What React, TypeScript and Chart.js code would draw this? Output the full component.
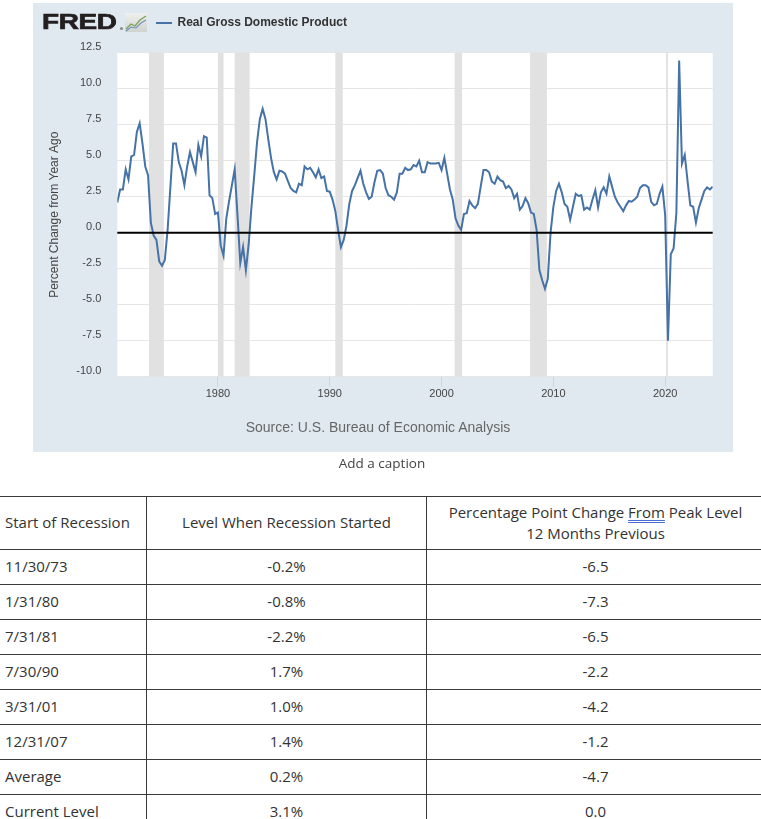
import { useEffect, useRef } from 'react';
import { Chart, registerables } from 'chart.js';

Chart.register(...registerables);

// Real GDP, percent change from year ago, quarterly, starting 1971 Q1
const START_YEAR = 1971;
const gdpYoY = [
  2.1, 3.0, 3.0, 4.4, // 1971
  3.7, 5.3, 5.4, 7.0, // 1972
  7.6, 6.2, 4.6, 4.0, // 1973
  0.7, -0.2, -0.5, -2.0, // 1974
  -2.3, -1.9, 0.2, 3.2, // 1975
  6.2, 6.2, 4.9, 4.3, // 1976
  3.3, 4.6, 5.6, 4.9, // 1977
  4.2, 6.1, 5.3, 6.7, // 1978
  6.6, 2.6, 2.4, 1.3, // 1979
  1.4, -0.9, -1.6, 1.0, // 1980
  2.2, 3.3, 4.4, 1.2, // 1981
  -2.1, -1.0, -2.6, -0.8, // 1982
  1.8, 4.0, 6.3, 7.9, // 1983
  8.6, 7.9, 6.5, 5.2, // 1984
  4.2, 3.7, 4.3, 4.25, // 1985
  4.1, 3.6, 3.1, 2.9, // 1986
  2.8, 3.4, 3.3, 4.6, // 1987
  4.4, 4.5, 4.2, 3.85, // 1988
  4.4, 3.8, 3.9, 2.9, // 1989
  2.85, 2.3, 1.5, 0.2, // 1990
  -1.0, -0.5, 0.5, 2.0, // 1991
  2.9, 3.3, 3.8, 4.3, // 1992
  3.4, 2.8, 2.35, 2.5, // 1993
  3.5, 4.3, 4.35, 4.1, // 1994
  3.1, 2.6, 2.5, 2.3, // 1995
  2.8, 4.1, 4.1, 4.5, // 1996
  4.35, 4.4, 4.7, 4.6, // 1997
  5.0, 4.2, 4.2, 4.9, // 1998
  4.8, 4.8, 4.8, 4.85, // 1999
  4.35, 5.2, 4.1, 3.0, // 2000
  2.3, 1.0, 0.5, 0.2, // 2001
  1.3, 1.35, 2.2, 1.9, // 2002
  1.7, 2.0, 3.2, 4.35, // 2003
  4.35, 4.2, 3.55, 3.4, // 2004
  3.9, 3.65, 3.55, 3.1, // 2005
  3.25, 3.0, 2.4, 2.7, // 2006
  1.6, 1.85, 2.4, 2.05, // 2007
  1.4, 1.3, 0.2, -2.6, // 2008
  -3.3, -3.9, -3.2, 0.0, // 2009
  1.8, 2.9, 3.4, 2.8, // 2010
  2.0, 1.8, 0.9, 1.8, // 2011
  2.7, 2.55, 2.6, 1.6, // 2012
  1.75, 1.6, 2.3, 2.95, // 2013
  1.75, 2.8, 3.15, 2.7, // 2014
  3.9, 3.2, 2.5, 2.1, // 2015
  1.8, 1.5, 1.9, 2.2, // 2016
  2.15, 2.3, 2.5, 3.1, // 2017
  3.3, 3.3, 3.15, 2.15, // 2018
  1.9, 2.0, 2.7, 3.2, // 2019
  1.2, -7.5, -1.5, -1.1, // 2020
  1.35, 11.95, 4.8, 5.4, // 2021
  3.6, 1.9, 1.8, 0.7, // 2022
  1.7, 2.3, 2.9, 3.15, // 2023
  3.0, 3.2, // 2024
];

// NBER recessions (decimal years, peak month to trough month)
const recessionStart = [1973.833, 1980.0, 1981.5, 1990.5, 2001.167, 2007.917, 2020.083];
const recessionEnd = [1975.167, 1980.5, 1982.833, 1991.167, 2001.833, 2009.417, 2020.25];

const xMin = 1971;
const xMax = 2024.25;
const xTickYears = [1980, 1990, 2000, 2010, 2020];
const yMin = -10;
const yMax = 12.5;
const yStep = 2.5;

const seriesName = 'Real Gross Domestic Product';
const yAxisTitle = 'Percent Change from Year Ago';
const sourceText = 'Source: U.S. Bureau of Economic Analysis';
const captionText = 'Add a caption';

const tableHeaders = ['Start of Recession', 'Level When Recession Started'];
const tableHeader3a = 'Percentage Point Change ';
const tableHeader3b = 'From';
const tableHeader3c = ' Peak Level';
const tableHeader3d = '12 Months Previous';
const rowLabels = ['11/30/73', '1/31/80', '7/31/81', '7/30/90', '3/31/01', '12/31/07', 'Average', 'Current Level'];
const rowLevels = ['-0.2%', '-0.8%', '-2.2%', '1.7%', '1.0%', '1.4%', '0.2%', '3.1%'];
const rowChanges = ['-6.5', '-7.3', '-6.5', '-2.2', '-4.2', '-1.2', '-4.7', '0.0'];

const FRED_BG = '#e1e9f0';
const LINE_COLOR = '#4572a7';
const SANS = '"Liberation Sans", Arial, sans-serif';
const TABLE_FONT = '"Open Sans", "Noto Sans", sans-serif';

function FredChart() {
  const ref = useRef<HTMLCanvasElement | null>(null);
  useEffect(() => {
    if (!ref.current) return;
    const points = gdpYoY.map((v, i) => ({ x: START_YEAR + i / 4, y: v }));

    const backgroundPlugin = {
      id: 'plotBg',
      beforeDraw(chart: any) {
        const { ctx, chartArea } = chart;
        ctx.save();
        ctx.fillStyle = '#ffffff';
        ctx.fillRect(chartArea.left, chartArea.top, chartArea.right - chartArea.left, chartArea.bottom - chartArea.top);
        ctx.restore();
      },
    };
    const recessionPlugin = {
      id: 'recessions',
      beforeDatasetsDraw(chart: any) {
        const { ctx, chartArea, scales } = chart;
        ctx.save();
        ctx.fillStyle = '#e1e1e1';
        recessionStart.forEach((s, k) => {
          const x0 = scales.x.getPixelForValue(s);
          const x1 = scales.x.getPixelForValue(recessionEnd[k]);
          ctx.fillRect(x0, chartArea.top, Math.max(x1 - x0, 1.5), chartArea.bottom - chartArea.top);
        });
        ctx.restore();
      },
    };
    const zeroLinePlugin = {
      id: 'zeroLine',
      afterDatasetsDraw(chart: any) {
        const { ctx, chartArea, scales } = chart;
        const y = scales.y.getPixelForValue(0);
        ctx.save();
        ctx.strokeStyle = '#000000';
        ctx.lineWidth = 2;
        ctx.beginPath();
        ctx.moveTo(chartArea.left, y);
        ctx.lineTo(chartArea.right, y);
        ctx.stroke();
        ctx.restore();
      },
    };

    const chart = new Chart(ref.current, {
      type: 'line',
      data: {
        datasets: [
          {
            label: seriesName,
            data: points,
            borderColor: LINE_COLOR,
            backgroundColor: LINE_COLOR,
            borderWidth: 2,
            pointRadius: 0,
            tension: 0,
            fill: false,
          },
        ],
      },
      options: {
        responsive: false,
        animation: false,
        layout: { padding: { left: 10, top: 49.7, right: 20.3, bottom: 45.3 } },
        plugins: { legend: { display: false }, tooltip: { enabled: false } },
        scales: {
          x: {
            type: 'linear',
            min: xMin,
            max: xMax,
            afterBuildTicks: (s: any) => {
              s.ticks = xTickYears.map((v) => ({ value: v }));
            },
            afterFit: (s: any) => {
              s.height = 30;
            },
            ticks: {
              autoSkip: false,
              maxRotation: 0,
              padding: 1,
              color: '#444',
              font: { family: SANS, size: 11 },
              callback: (v: any) => String(v),
            },
            grid: { drawOnChartArea: false, drawTicks: true, tickLength: 10, color: '#ccd6eb' },
            border: { display: false },
          },
          y: {
            min: yMin,
            max: yMax,
            afterFit: (s: any) => {
              s.width = 74.3;
            },
            ticks: {
              stepSize: yStep,
              padding: 16,
              labelOffset: -6,
              color: '#444',
              font: { family: SANS, size: 11 },
              callback: (v: any) => Number(v).toFixed(1),
            },
            grid: { color: '#e6e6e6', drawTicks: false },
            border: { display: false },
            title: {
              display: true,
              text: yAxisTitle,
              color: '#444',
              font: { family: SANS, size: 12 },
              padding: { top: 4, bottom: 0 },
            },
          },
        },
      },
      plugins: [backgroundPlugin, recessionPlugin, zeroLinePlugin],
    } as any);
    return () => chart.destroy();
  }, []);

  return (
    <div style={{ position: 'absolute', left: 33, top: 3, width: 700, height: 449, background: FRED_BG, fontFamily: SANS }}>
      <canvas ref={ref} width={700} height={449} style={{ position: 'absolute', left: 0, top: 0, width: 700, height: 449 }} />
      <div
        style={{
          position: 'absolute',
          left: 9,
          top: 6,
          fontSize: 22,
          fontWeight: 700,
          color: '#231f20',
          lineHeight: '26px',
          transform: 'scaleX(1.27)',
          transformOrigin: 'left top',
          WebkitTextStroke: '0.7px #231f20',
          letterSpacing: '-0.3px',
        }}
      >
        FRED
      </div>
      <div style={{ position: 'absolute', left: 87, top: 24, width: 3, height: 3, borderRadius: 2, background: '#888' }} />
      <svg style={{ position: 'absolute', left: 92, top: 10 }} width={22} height={19} viewBox="0 0 22 19">
        <defs>
          <linearGradient id="fredIcon" x1="0" y1="0" x2="0" y2="1">
            <stop offset="0" stopColor="#eef0ee" />
            <stop offset="1" stopColor="#cfd4cf" />
          </linearGradient>
        </defs>
        <rect x="0" y="0" width="22" height="19" fill="url(#fredIcon)" />
        <polyline points="1,16 6,11 10,13 15,7 21,3" fill="none" stroke="#7aa35a" strokeWidth="1.3" />
        <polyline points="1,18 6,14 11,15 16,10 21,7" fill="none" stroke="#6f8fb8" strokeWidth="1.1" />
      </svg>
      <div style={{ position: 'absolute', left: 123, top: 18.5, width: 16, height: 2, background: LINE_COLOR }} />
      <div style={{ position: 'absolute', left: 144.5, top: 11, fontSize: 12, fontWeight: 700, color: '#333', lineHeight: '16px', whiteSpace: 'nowrap' }}>
        {seriesName}
      </div>
      <div
        style={{
          position: 'absolute',
          left: 345,
          top: 415,
          transform: 'translateX(-50%)',
          fontSize: 14,
          color: '#666',
          whiteSpace: 'nowrap',
          lineHeight: '18px',
        }}
      >
        {sourceText}
      </div>
    </div>
  );
}

function RecessionTable() {
  const border = '1px solid #3a3a3a';
  const cell = (align: 'left' | 'center', extra: any = {}) => ({
    border,
    padding: align === 'left' ? '0 0 0 5px' : '0',
    textAlign: align,
    verticalAlign: 'middle' as const,
    ...extra,
  });
  return (
    <table
      style={{
        position: 'absolute',
        left: -1,
        top: 495.5,
        width: 765,
        borderCollapse: 'collapse',
        tableLayout: 'fixed',
        fontFamily: TABLE_FONT,
        fontSize: 15,
        color: '#333',
        lineHeight: '21px',
      }}
    >
      <colgroup>
        <col style={{ width: 147 }} />
        <col style={{ width: 280 }} />
        <col style={{ width: 338 }} />
      </colgroup>
      <tbody>
        <tr style={{ height: 53 }}>
          <td style={cell('left')}>{tableHeaders[0]}</td>
          <td style={cell('center')}>{tableHeaders[1]}</td>
          <td style={cell('center')}>
            {tableHeader3a}
            <span style={{ textDecoration: 'underline double #4a6bd0', textUnderlineOffset: '2px' }}>{tableHeader3b}</span>
            {tableHeader3c}
            <br />
            {tableHeader3d}
          </td>
        </tr>
        {rowLabels.map((label, i) => (
          <tr key={label} style={{ height: 35 }}>
            <td style={cell('left')}>{label}</td>
            <td style={cell('center')}>{rowLevels[i]}</td>
            <td style={cell('center')}>{rowChanges[i]}</td>
          </tr>
        ))}
      </tbody>
    </table>
  );
}

export default function App() {
  return (
    <div style={{ position: 'absolute', left: 0, top: 0, width: 761, height: 819, overflow: 'hidden', background: '#fff' }}>
      <FredChart />
      <div
        style={{
          position: 'absolute',
          left: 382,
          top: 454,
          transform: 'translateX(-50%)',
          fontFamily: TABLE_FONT,
          fontSize: 13.5,
          color: '#444',
          whiteSpace: 'nowrap',
          lineHeight: '18px',
        }}
      >
        {captionText}
      </div>
      <RecessionTable />
    </div>
  );
}
